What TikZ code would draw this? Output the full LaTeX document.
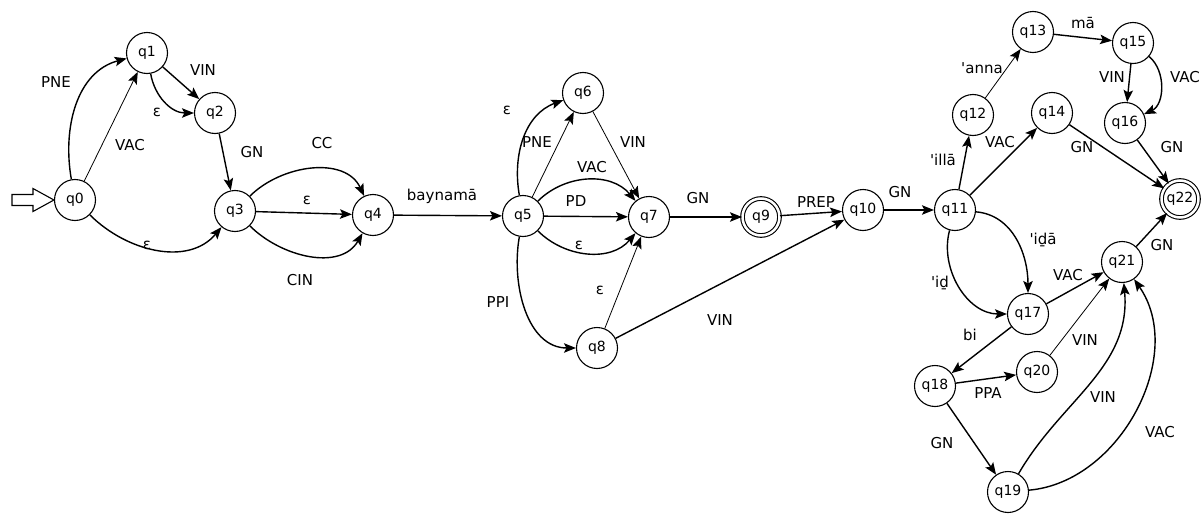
\documentclass[tikz,border=0pt]{standalone}
\usepackage{fontspec}
\newfontfamily\lblfont{DejaVu Sans}
\usetikzlibrary{arrows.meta}
\begin{document}
\begin{tikzpicture}[x=1pt,y=-1pt,
  st/.style={circle, draw, line width=1.1pt, minimum size=41pt, inner sep=0pt, font=\lblfont\fontsize{14}{14}\selectfont},
  acc/.style={st, double, double distance=2.5pt, minimum size=37pt},
  e/.style={line width=1.4pt, -{Stealth[length=12pt,width=9.5pt,inset=2.5pt]}},
  te/.style={e, line width=0.8pt},
  lb/.style={font=\lblfont\fontsize{15}{15}\selectfont, inner sep=1pt}]
\useasboundingbox (0,0) rectangle (1203,514);
% states
\node[st] (q0) at (75,200) {q0};
\node[st] (q1) at (147,53) {q1};
\node[st] (q2) at (215,113) {q2};
\node[st] (q3) at (235,211) {q3};
\node[st] (q4) at (373,215) {q4};
\node[st] (q5) at (523,216) {q5};
\node[st] (q6) at (583,93) {q6};
\node[st] (q7) at (649,217) {q7};
\node[st] (q8) at (597,348) {q8};
\node[acc] (q9) at (761,217) {q9};
\node[st] (q10) at (863,210) {q10};
\node[st] (q11) at (955,210) {q11};
\node[st] (q12) at (973,115) {q12};
\node[st] (q13) at (1033,32) {q13};
\node[st] (q14) at (1052,113) {q14};
\node[st] (q15) at (1133,43) {q15};
\node[st] (q16) at (1125,123) {q16};
\node[st] (q17) at (1028,314) {q17};
\node[st] (q18) at (935,386) {q18};
\node[st] (q19) at (1008,492) {q19};
\node[st] (q20) at (1037,372) {q20};
\node[st] (q21) at (1122,262) {q21};
\node[acc] (q22) at (1180,199) {q22};
% start arrow
\draw[line width=1.1pt, fill=white] (12,194.5) -- (33,194.5) -- (33,188.5) -- (q0.west) -- (33,211.5) -- (33,205.5) -- (12,205.5) -- cycle;
% edges left
\draw[e] (q0) to[out=100,in=195] (q1);
\draw[te] (q0) -- (q1);
\draw[e] (q1) -- (q2);
\draw[e] (q1) to[out=-80,in=180] (q2);
\draw[e] (q2) -- (q3);
\draw[e] (q0) to[out=-45,in=-130] (q3);
\draw[e] (q3) to[out=45,in=115] (q4);
\draw[e] (q3) -- (q4);
\draw[e] (q3) to[out=-45,in=-120] (q4);
\draw[e] (q4) -- (q5);
% edges middle
\draw[e] (q5) to[out=100,in=200] (q6);
\draw[te] (q5) -- (q6);
\draw[te] (q6) -- (q7);
\draw[e] (q5) to[out=45,in=130] (q7);
\draw[e] (q5) -- (q7);
\draw[e] (q5) to[out=-45,in=-130] (q7);
\draw[e] (q5) to[out=-100,in=180] (q8);
\draw[te] (q8) -- (q7);
\draw[e] (q7) -- (q9);
\draw[e] (q9) -- (q10);
\draw[e] (q8) -- (q10);
% edges right
\draw[e] (q10) -- (q11);
\draw[e] (q11) -- (q12);
\draw[te] (q12) -- (q13);
\draw[e] (q13) -- (q15);
\draw[e] (q15) -- (q16);
\draw[e] (q15) to[out=-40,in=25] (q16);
\draw[e] (q11) -- (q14);
\draw[e] (q14) -- (q22);
\draw[e] (q16) -- (q22);
\draw[e] (q21) -- (q22);
\draw[e] (q11) to[out=-5,in=90] (q17);
\draw[e] (q11) to[out=-105,in=180] (q17);
\draw[e] (q17) -- (q21);
\draw[e] (q17) -- (q18);
\draw[e] (q18) -- (q20);
\draw[te] (q20) -- (q21);
\draw[e] (q18) -- (q19);
\draw[e] (q19) to[out=60,in=-85] (q21);
\draw[e] (q19) to[out=5,in=-55] (q21);
% labels
\node[lb] (l1) at (56,82) {PNE};
\node[lb] (l2) at (130,145) {VAC};
\node[lb] (l3) at (203,70) {VIN};
\node[lb] (l4) at (157,112) {ε};
\node[lb] (l5) at (252,152) {GN};
\node[lb] (l6) at (147,245) {ε};
\node[lb] (l7) at (322,143) {CC};
\node[lb] (l8) at (307,200) {ε};
\node[lb] (l9) at (300,280) {CIN};
\node[lb] (l10) at (442,196) {baynamā};
\node[lb] (l11) at (507,110) {ε};
\node[lb] (l12) at (537,142) {PNE};
\node[lb] (l13) at (633,142) {VIN};
\node[lb] (l14) at (592,167) {VAC};
\node[lb] (l15) at (576,201) {PD};
\node[lb] (l16) at (579,245) {ε};
\node[lb] (l17) at (498,302) {PPI};
\node[lb] (l18) at (600,290) {ε};
\node[lb] (l19) at (698,198) {GN};
\node[lb] (l20) at (816,202) {PREP};
\node[lb] (l21) at (720,320) {VIN};
\node[lb] (l22) at (900,192) {GN};
\node[lb] (l23) at (943,160) {\textquotesingle illā};
\node[lb] (l24) at (982,68) {\textquotesingle anna};
\node[lb] (l25) at (1083,23) {mā};
\node[lb] (l26) at (1112,77) {VIN};
\node[lb] (l27) at (1185,77) {VAC};
\node[lb] (l28) at (1000,142) {VAC};
\node[lb] (l29) at (1082,147) {GN};
\node[lb] (l30) at (1172,147) {GN};
\node[lb] (l31) at (1162,245) {GN};
\node[lb] (l32) at (1043,240) {\textquotesingle iḏā};
\node[lb] (l33) at (940,283) {\textquotesingle iḏ};
\node[lb] (l34) at (1068,275) {VAC};
\node[lb] (l35) at (970,335) {bi};
\node[lb] (l36) at (988,393) {PPA};
\node[lb] (l37) at (1085,340) {VIN};
\node[lb] (l38) at (942,443) {GN};
\node[lb] (l39) at (1103,397) {VIN};
\node[lb] (l40) at (1160,432) {VAC};
\end{tikzpicture}
\end{document}
